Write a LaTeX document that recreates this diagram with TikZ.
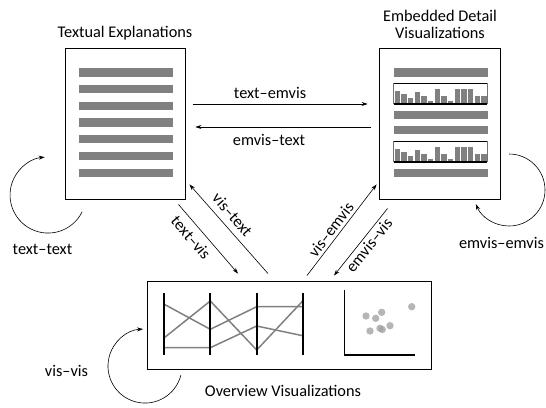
\documentclass[tikz,border=0pt]{standalone}
\usepackage{fontspec}
\setmainfont{Carlito}
\usetikzlibrary{arrows.meta}
\begin{document}
\begin{tikzpicture}[x=1pt,y=-1pt,
  box/.style={draw, line width=0.9pt, inner sep=0pt},
  arr/.style={-{Stealth[length=6pt,width=4pt]}, line width=0.6pt},
  lbl/.style={font=\fontsize{16.3}{16.5}\selectfont, inner sep=0pt, align=center},
  gbar/.style={fill=black!50, draw=none},
  pcp/.style={draw=black!50, line width=1.5pt},
  axisline/.style={line width=1.8pt},
  dot/.style={fill=black!38, opacity=0.75, draw=none}]
\useasboundingbox (0,0) rectangle (546,407);

% boxes
\node[box, minimum width=120pt, minimum height=151pt] (text) at (125,123.5) {};
\node[box, minimum width=121pt, minimum height=151pt] (emvis) at (439.5,123.5) {};
\node[box, minimum width=284pt, minimum height=88pt] (vis) at (289,325) {};

% titles
\node[lbl] (ttitle) at (125,33) {Textual Explanations};
\node[lbl] (etitle) at (440,24.5) {Embedded Detail\\Visualizations};
\node[lbl] (vtitle) at (283,391) {Overview Visualizations};

% text lines in text box
\foreach \y in {68.3,85,101.7,118.3,135,151.7,169}
  \fill[gbar] (79,\y) rectangle (173,\y+8.4);

% emvis content
\foreach \y in {68.3,111,126,169}
  \fill[gbar] (394,\y) rectangle (488,\y+8.4);
\foreach \top in {83,141}{
  \foreach \h [count=\i from 0] in {13.3,10.3,6,12,7.7,3.3,15,7.7,3.3,15,15,15,8.3,8.3}
    \fill[gbar] (394.7+6.67*\i,\top+21) rectangle (400+6.67*\i,\top+21-\h);
  \draw[black!55, line width=0.7pt] (393.7,\top+21) -- (393.7,\top) (487,\top) -- (487,\top+21);
  \draw[line width=0.8pt] (393.7,\top) -- (487,\top);
  \draw[line width=1.2pt] (393.7,\top+21) -- (487,\top+21);
}

% parallel coordinates
\draw[pcp] (164.3,304.3) -- (210.3,329.3) -- (256.7,306.7) -- (302.7,306.7);
\draw[pcp] (164.3,337.7) -- (210.3,301) -- (256.7,350) -- (302.7,301);
\draw[pcp] (164.3,347.7) -- (210.3,347.7) -- (256.7,326) -- (302.7,335.7);
\foreach \x in {164.3,210.3,256.7,302.7}
  \draw[axisline] (\x,293) -- (\x,355);

% scatter plot
\draw[line width=1.5pt] (344.3,290) -- (344.3,355) -- (415,355);
\foreach \p in {(366,316),(375.7,318.3),(381.7,312.3),(370,331),(380,328.3),(382.3,329.5),(390,325.7),(411.7,306.7)}
  \fill[dot] \p circle (3.7pt);

% connectors
\draw[arr] ([shift={(8,-19.5)}]text.east) -- ([shift={(-11,-19.5)}]emvis.west)
  node[lbl, pos=0.44, above=5pt] (l1) {text–emvis};
\draw[arr] ([shift={(-8,3.5)}]emvis.west) -- ([shift={(10,3.5)}]text.east)
  node[lbl, pos=0.58, below=7pt] (l2) {emvis–text};
\draw[arr] ([shift={(-21,-7)}]vis.north) -- ([shift={(4,-15)}]text.south east);
\draw[arr] ([shift={(-7,5)}]text.south east) -- ([shift={(-51,-7)}]vis.north);
\draw[arr] ([shift={(18,-5)}]vis.north) -- ([shift={(-2,-15)}]emvis.south west);
\draw[arr] ([shift={(9,9)}]emvis.south west) -- ([shift={(45,-5)}]vis.north);

\node[lbl, rotate=-48.7] (l3) at (232.5,214.5) {vis–text};
\node[lbl, rotate=-49.4] (l4) at (191,237.5) {text–vis};
\node[lbl, rotate=52.7] (l5) at (331,229.5) {vis–emvis};
\node[lbl, rotate=51.5] (l6) at (369,245.5) {emvis–vis};

% self loops
\coordinate (ttstart) at (82.2,211.7);
\coordinate (eestart) at (509,154);
\coordinate (vvstart) at (180.9,375);
\draw[arr] (ttstart) arc[start angle=-26, end angle=-265, radius=38pt];
\draw[arr] (eestart) arc[start angle=90, end angle=-157, radius=36pt];
\draw[arr] (vvstart) arc[start angle=-14, end angle=-267, radius=37pt];
\node[lbl] (l7) at (42.5,249) {text–text};
\node[lbl] (l8) at (501.5,243) {emvis–emvis};
\node[lbl] (l9) at (66.5,371) {vis–vis};
\end{tikzpicture}
\end{document}
